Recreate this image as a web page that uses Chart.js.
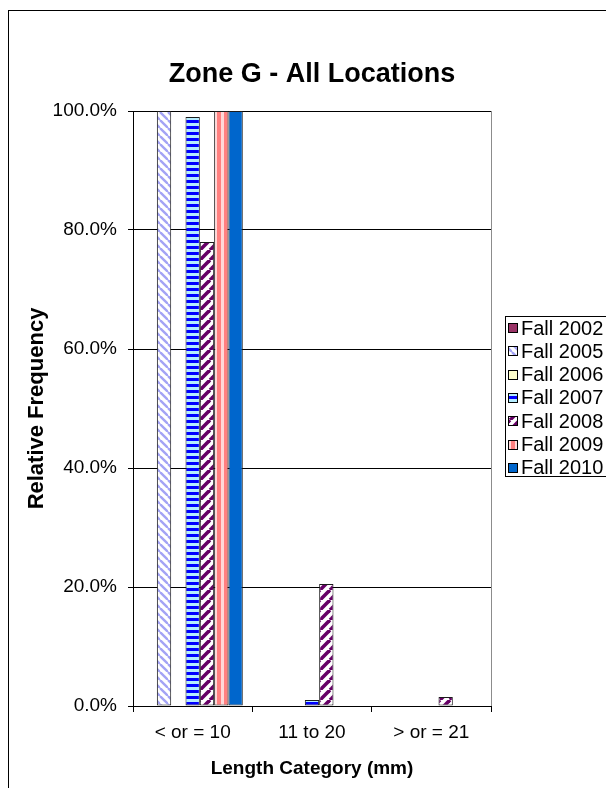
<!DOCTYPE html>
<html>
<head>
<meta charset="utf-8">
<script src="https://cdn.jsdelivr.net/npm/chart.js@4.4.1/dist/chart.umd.min.js"></script>
<style>
  html, body { margin: 0; padding: 0; background: #fff; }
  #wrap { width: 606px; height: 788px; position: relative; }
  canvas { display: block; }
</style>
</head>
<body>
<div id="wrap"><canvas id="chart" width="606" height="788"></canvas></div>
<script>
// Length categories (x axis)
const categories = ['< or = 10', '11 to 20', '> or = 21'];

// Relative frequency (%) per sampling season
const seriesNames = ['Fall 2002', 'Fall 2005', 'Fall 2006', 'Fall 2007', 'Fall 2008', 'Fall 2009', 'Fall 2010'];
const fall2002 = [0, 0, 0];
const fall2005 = [100, 0, 0];
const fall2006 = [0, 0, 0];
const fall2007 = [99, 1, 0];
const fall2008 = [78, 20.5, 1.5];
const fall2009 = [100, 0, 0];
const fall2010 = [100, 0, 0];

// Y axis tick values
const yTicks = [0, 20, 40, 60, 80, 100];

const FONT = "'Liberation Sans', Arial, sans-serif";
Chart.defaults.font.family = FONT;
Chart.defaults.color = '#000';

const canvas = document.getElementById('chart');
const ctx = canvas.getContext('2d');

// Build repeating fill patterns
function makePattern(w, h, paint) {
  const c = document.createElement('canvas');
  c.width = w; c.height = h;
  const g = c.getContext('2d');
  paint(g, w, h);
  return ctx.createPattern(c, 'repeat');
}

const diagDown = makePattern(8, 8, (g, w, h) => {
  g.fillStyle = '#fff'; g.fillRect(0, 0, w, h);
  g.strokeStyle = '#a3a3f5'; g.lineWidth = 2.4;
  for (const o of [-w, 0, w]) {
    g.beginPath(); g.moveTo(o, 0); g.lineTo(o + w, h); g.stroke();
  }
});
const hStripe = makePattern(2, 6, (g, w, h) => {
  g.fillStyle = '#b4ecff'; g.fillRect(0, 0, w, h);
  g.fillStyle = '#0000ff'; g.fillRect(0, 0, w, 3);
});
const diagUp = makePattern(10, 10, (g, w, h) => {
  g.fillStyle = '#fff'; g.fillRect(0, 0, w, h);
  g.strokeStyle = '#660066'; g.lineWidth = 3.6;
  for (const o of [-w, 0, w]) {
    g.beginPath(); g.moveTo(o, h); g.lineTo(o + w, 0); g.stroke();
  }
});
const vStripe = makePattern(7, 2, (g, w, h) => {
  g.fillStyle = '#ffd8d8'; g.fillRect(0, 0, w, h);
  g.fillStyle = '#ff8080'; g.fillRect(0, 0, 4, h);
});

const fills = ['#993366', diagDown, '#ffffcc', hStripe, diagUp, vStripe, '#0066cc'];
const seriesData = [fall2002, fall2005, fall2006, fall2007, fall2008, fall2009, fall2010];

const datasets = seriesNames.map((name, i) => ({
  label: name,
  data: seriesData[i],
  backgroundColor: fills[i],
  borderColor: '#1a1a1a',
  borderWidth: 1,
  borderSkipped: false,
  categoryPercentage: 0.84,
  barPercentage: 1.0
}));

// Frame, plot-area outline and side legend
const decorations = {
  id: 'decorations',
  beforeDraw(chart) {
    const c = chart.ctx, a = chart.chartArea;
    c.save();
    c.fillStyle = '#fff';
    c.fillRect(0, 0, chart.width, chart.height);
    c.strokeStyle = '#000'; c.lineWidth = 1;
    c.strokeRect(8.5, 10.5, 700, 900);
    c.strokeStyle = '#8c8c8c';
    c.strokeRect(Math.round(a.left) + 0.5, Math.round(a.top) + 0.5,
                 Math.round(a.right - a.left), Math.round(a.bottom - a.top));
    c.restore();
  },
  afterDraw(chart) {
    const c = chart.ctx;
    c.save();
    const bx = 505.5, by = 316.5, rowH = 23.3;
    c.fillStyle = '#fff';
    c.fillRect(bx, by, 200, 160);
    c.strokeStyle = '#000'; c.lineWidth = 1;
    c.strokeRect(bx, by, 200, 160);
    c.font = '20px ' + FONT;
    c.textBaseline = 'middle';
    c.textAlign = 'left';
    chart.data.datasets.forEach((ds, i) => {
      const cy = 328 + i * rowH;
      c.fillStyle = ds.backgroundColor;
      c.fillRect(508, Math.round(cy - 5), 10, 10);
      c.strokeStyle = '#000';
      c.strokeRect(508.5, Math.round(cy - 5) + 0.5, 9, 9);
      c.fillStyle = '#000';
      c.fillText(ds.label, 521, cy + 1);
    });
    c.restore();
  }
};

new Chart(canvas, {
  type: 'bar',
  data: { labels: categories, datasets },
  plugins: [decorations],
  options: {
    responsive: false,
    animation: false,
    devicePixelRatio: 1,
    layout: { padding: { left: 0, right: 115, top: 0, bottom: 0 } },
    plugins: {
      legend: { display: false },
      tooltip: { enabled: false },
      title: {
        display: true,
        text: 'Zone G - All Locations',
        fullSize: false,
        color: '#000',
        font: { size: 27, weight: 'bold' },
        padding: { top: 58, bottom: 20.6 }
      }
    },
    scales: {
      x: {
        afterFit(s) { s.height = 82; },
        grid: { display: true, drawOnChartArea: false, drawTicks: true, tickLength: 6, offset: true, color: '#000' },
        border: { color: '#000', width: 1 },
        ticks: { font: { size: 19 }, color: '#000', padding: 9, maxRotation: 0 },
        title: {
          display: true,
          text: 'Length Category (mm)',
          color: '#000',
          font: { size: 19, weight: 'bold' },
          padding: { top: 0, bottom: 8 }
        }
      },
      y: {
        min: 0,
        max: 100,
        afterFit(s) { s.width = 133; },
        afterBuildTicks(s) { s.ticks = yTicks.map(v => ({ value: v })); },
        grid: { color: '#000', drawTicks: true, tickLength: 5 },
        border: { color: '#000', width: 1 },
        ticks: {
          font: { size: 19 },
          color: '#000',
          padding: 11,
          callback: v => v.toFixed(1) + '%'
        },
        title: {
          display: true,
          text: 'Relative Frequency',
          color: '#000',
          font: { size: 22, weight: 'bold' },
          padding: { top: 24, bottom: 0 }
        }
      }
    }
  }
});
</script>
</body>
</html>
